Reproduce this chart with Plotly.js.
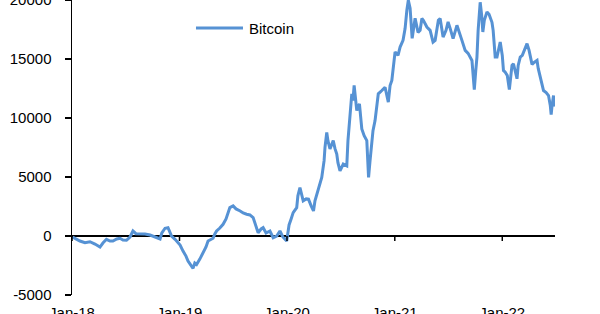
<!DOCTYPE html>
<html>
<head>
<meta charset="utf-8">
<script src="https://cdn.plot.ly/plotly-3.0.1.min.js"></script>
<style>
  html, body { margin: 0; padding: 0; background: #fff; }
  #chart { width: 600px; height: 314px; }
</style>
</head>
<body>
<div id="chart"></div>
<script>
const seriesName = 'Bitcoin';
const dates = [
  '2018-01-03','2018-01-14','2018-01-28','2018-02-14','2018-03-03','2018-03-20','2018-04-06','2018-04-16','2018-04-28','2018-05-10',
  '2018-05-20','2018-06-02','2018-06-13','2018-06-23','2018-07-05','2018-07-17','2018-07-27','2018-08-06','2018-08-20','2018-09-06',
  '2018-09-23','2018-10-03','2018-10-15','2018-10-27','2018-11-02','2018-11-13','2018-11-23','2018-11-30','2018-12-05','2018-12-17',
  '2018-12-27','2019-01-03','2019-01-13','2019-01-23','2019-01-30','2019-02-05','2019-02-16','2019-02-22','2019-02-28','2019-03-11',
  '2019-03-22','2019-04-01','2019-04-08','2019-04-18','2019-04-25','2019-05-01','2019-05-07','2019-05-18','2019-05-29','2019-06-08',
  '2019-06-15','2019-06-21','2019-07-02','2019-07-12','2019-07-26','2019-08-05','2019-08-17','2019-08-28','2019-09-08','2019-09-18',
  '2019-09-25','2019-10-05','2019-10-12','2019-10-22','2019-11-04','2019-11-15','2019-11-27','2019-12-08','2019-12-18','2019-12-31',
  '2020-01-08','2020-01-15','2020-01-22','2020-02-03','2020-02-07','2020-02-14','2020-02-19','2020-02-25','2020-03-06','2020-03-14',
  '2020-03-23','2020-03-31','2020-04-05','2020-04-11','2020-04-19','2020-04-28','2020-05-06','2020-05-09','2020-05-15','2020-05-19',
  '2020-05-26','2020-06-06','2020-06-12','2020-06-18','2020-06-22','2020-06-29','2020-07-10','2020-07-22','2020-07-26','2020-08-02',
  '2020-08-08','2020-08-12','2020-08-16','2020-08-25','2020-09-03','2020-09-11','2020-09-19','2020-09-28','2020-10-01','2020-10-04',
  '2020-10-09','2020-10-15','2020-10-19','2020-10-26','2020-11-02','2020-11-06','2020-11-18','2020-11-29','2020-12-10','2020-12-16',
  '2020-12-22','2020-12-26','2021-01-02','2021-01-12','2021-01-19','2021-01-29','2021-02-05','2021-02-11','2021-02-16','2021-02-22',
  '2021-03-01','2021-03-11','2021-03-21','2021-03-28','2021-04-03','2021-04-08','2021-04-20','2021-05-01','2021-05-11','2021-05-18',
  '2021-05-29','2021-06-04','2021-06-14','2021-06-24','2021-07-01','2021-07-08','2021-07-18','2021-07-31','2021-08-08','2021-08-17',
  '2021-08-28','2021-09-07','2021-09-20','2021-09-24','2021-09-28','2021-10-03','2021-10-07','2021-10-11','2021-10-18','2021-10-23',
  '2021-10-27','2021-11-01','2021-11-10','2021-11-17','2021-11-27','2021-12-01','2021-12-08','2021-12-14','2021-12-18','2021-12-25',
  '2022-01-01','2022-01-05','2022-01-11','2022-01-18','2022-01-25','2022-01-29','2022-02-03','2022-02-08','2022-02-14','2022-02-20',
  '2022-02-24','2022-03-03','2022-03-10','2022-03-16','2022-03-26','2022-04-02','2022-04-12','2022-04-19','2022-04-29','2022-05-03',
  '2022-05-10','2022-05-17','2022-05-21','2022-05-30','2022-06-07','2022-06-13','2022-06-16','2022-06-19','2022-06-24','2022-06-26'
];
const values = [
  -85,-255,-425,-570,-485,-680,-935,-595,-280,-425,
  -425,-255,-195,-340,-365,-85,425,195,195,170,
  85,0,-145,-255,255,655,705,340,0,-280,
  -570,-765,-1275,-1700,-2125,-2380,-2745,-2295,-2410,-1955,
  -1420,-935,-425,-255,-195,170,425,680,995,1445,
  1955,2405,2550,2295,2125,1955,1845,1785,1555,850,
  280,595,705,255,425,-145,0,425,-85,-425,
  935,1445,1980,2405,3400,4110,3655,2975,3145,3120,
  2550,2125,2975,3545,4250,4960,6380,7510,8785,8080,
  7375,8080,7400,6950,6210,5525,6095,5950,8080,10630,
  12050,11480,12755,10630,11200,9070,8500,8080,6380,4960,
  6380,7795,8930,9780,11050,12050,12330,12610,11340,12755,
  13180,14030,15600,15305,16010,16580,17575,19130,19980,19300,
  16750,18450,17260,17430,18425,18280,17710,17430,16440,16580,
  18280,18425,16860,17430,18140,17600,16725,17855,17175,16580,
  15730,15475,14880,13605,12410,14030,15160,17430,19810,18705,
  17290,18280,18990,18790,18110,17430,15160,15160,15730,16440,
  15305,14030,13890,13605,12410,13605,14455,14600,14030,13325,
  14455,15160,15305,15730,16300,15730,14540,14710,14880,14200,
  13520,12755,12330,12160,11905,11055,10290,11055,11905,10970
];
const xTickVals = ['2018-01-01','2019-01-01','2020-01-01','2021-01-01','2022-01-01'];
const xTickText = ['Jan-18','Jan-19','Jan-20','Jan-21','Jan-22'];
const yTickVals = [-5000, 0, 5000, 10000, 15000, 20000];
const yTickText = ['-5000', '0', '5000', '10000', '15000', '20000'];

const lineColor = 'rgb(86,146,212)';
const font = { family: 'Liberation Sans, Arial, sans-serif', size: 15, color: '#000' };

const trace = {
  x: dates, y: values, type: 'scatter', mode: 'lines', name: seriesName,
  line: { color: lineColor, width: 3 }
};

const tickShapes = xTickVals.map(d => ({
  type: 'line', xref: 'x', yref: 'y', ysizemode: 'pixel', yanchor: 0,
  x0: d, x1: d, y0: 0, y1: -5, line: { color: '#000', width: 1.5 }
}));

const layout = {
  width: 600, height: 314,
  margin: { l: 72, r: 45, t: 0, b: 19 },
  paper_bgcolor: '#fff', plot_bgcolor: '#fff',
  font: font,
  showlegend: false,
  xaxis: {
    type: 'date', range: ['2018-01-01', '2022-06-29'],
    tickvals: xTickVals, ticktext: xTickText,
    showline: false, showgrid: false, zeroline: false, ticks: '',
    tickfont: font, ticklabelstandoff: 7, ticklabeloverflow: 'allow'
  },
  yaxis: {
    range: [-5000, 20000], tickvals: yTickVals, ticktext: yTickText,
    showline: true, linecolor: '#000', linewidth: 1.5,
    ticks: 'outside', ticklen: 6, tickwidth: 1.5, tickcolor: '#000',
    showgrid: false, zeroline: true, zerolinecolor: '#000', zerolinewidth: 1.5,
    tickfont: font, ticklabelstandoff: 10, ticklabeloverflow: 'allow'
  },
  shapes: tickShapes.concat([{
    type: 'line', xref: 'paper', yref: 'paper',
    x0: 0.2567, x1: 0.354, y0: 0.905, y1: 0.905,
    line: { color: lineColor, width: 3 }
  }]),
  annotations: [{
    xref: 'paper', yref: 'paper', x: 0.362, y: 0.905,
    xanchor: 'left', yanchor: 'middle', showarrow: false,
    text: seriesName, font: font
  }]
};

Plotly.newPlot('chart', [trace], layout, { staticPlot: true, displayModeBar: false });
</script>
</body>
</html>
